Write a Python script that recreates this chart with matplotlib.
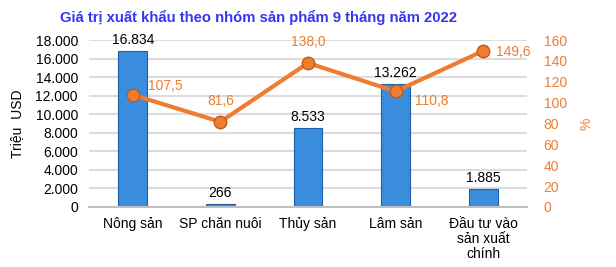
import matplotlib.pyplot as plt
import numpy as np

plt.rcParams["font.family"] = ["Liberation Sans", "DejaVu Sans"]

categories = ["Nông sản", "SP chăn nuôi", "Thủy sản", "Lâm sản", "Đầu tư vào\nsản xuất\nchính"]
export_value = [16834, 266, 8533, 13262, 1885]
value_labels = ["16.834", "266", "8.533", "13.262", "1.885"]
growth_pct = [107.5, 81.6, 138.0, 110.8, 149.6]
growth_labels = ["107,5", "81,6", "138,0", "110,8", "149,6"]

orange = "#ee7d31"
blue = "#3a8ddc"

fig = plt.figure(figsize=(6.16, 2.67), dpi=100)
ax = fig.add_axes([0.1445, 0.225, 0.711, 0.625])
x = np.arange(len(categories))

ax.bar(x, export_value, width=0.33, color=blue, edgecolor="#1f5fa8", linewidth=0.8, zorder=2)
ax.set_ylim(0, 18000)
ax.set_yticks(range(0, 18001, 2000))
ax.set_yticklabels([f"{v:,}".replace(",", ".") for v in range(0, 18001, 2000)], fontsize=10)
ax.set_xlim(-0.5, len(categories) - 0.5)
ax.set_xticks(x)
ax.set_xticklabels(categories, fontsize=10, linespacing=1.1)
ax.tick_params(axis="both", length=0)
ax.tick_params(axis="y", pad=8)
ax.tick_params(axis="x", pad=7)
ax.grid(axis="y", color="#dcdcdc", linewidth=1.5, zorder=0)
ax.set_axisbelow(True)
for s in ["top", "right", "left"]:
    ax.spines[s].set_visible(False)
ax.spines["bottom"].set_color("#bfbfbf")
ax.spines["bottom"].set_linewidth(1.5)
ax.set_ylabel("Triệu  USD", fontsize=10, labelpad=8)

for xi, v, lab in zip(x, export_value, value_labels):
    ax.annotate(lab, (xi, v), xytext=(0, 3), textcoords="offset points",
                ha="center", va="bottom", fontsize=10, color="black")

ax2 = ax.twinx()
ax2.plot(x, growth_pct, color=orange, linewidth=3, marker="o", markersize=9,
         markerfacecolor=orange, markeredgecolor="#c55a11", zorder=3)
ax2.set_ylim(0, 160)
ax2.set_yticks(range(0, 161, 20))
ax2.tick_params(axis="y", length=0, colors=orange, labelsize=10, pad=12)
for s in ["top", "right", "left", "bottom"]:
    ax2.spines[s].set_visible(False)
ax2.set_ylabel("%", color=orange, fontsize=10, labelpad=9)

offsets = [(11, 6, "left"), (0, 15, "center"), (0, 15, "center"),
           (14, -7, "left"), (9, -1, "left")]
for xi, v, lab, (dx, dy, ha) in zip(x, growth_pct, growth_labels, offsets):
    ax2.annotate(lab, (xi, v), xytext=(dx, dy), textcoords="offset points",
                 ha=ha, va="center", fontsize=10, color=orange)

fig.text(0.42, 0.935, "Giá trị xuất khẩu theo nhóm sản phẩm 9 tháng năm 2022",
         ha="center", va="center", fontsize=10.7, fontweight="bold", color="#3535ee")

fig.savefig("out.png", dpi=100)
